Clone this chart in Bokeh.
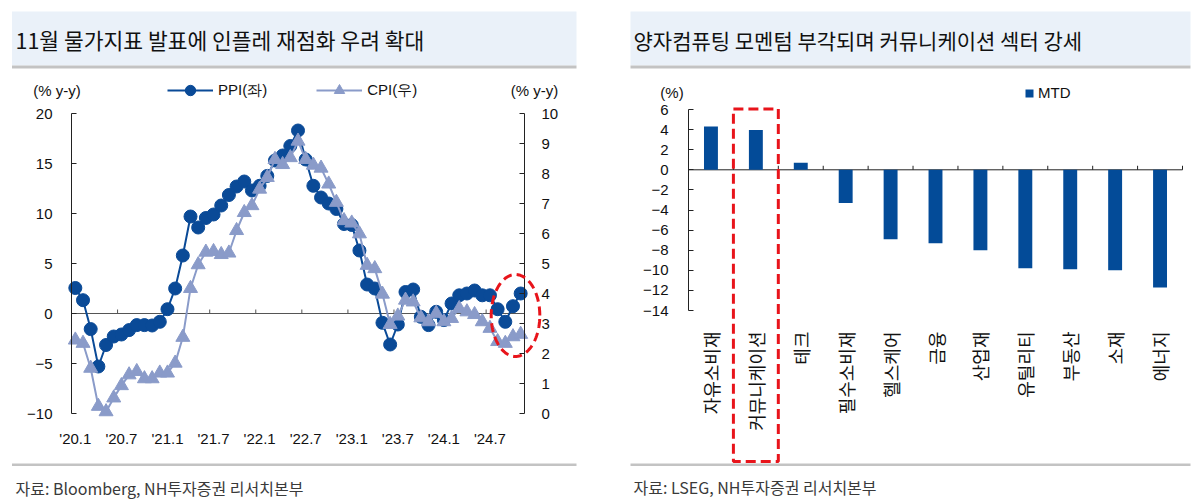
import math
import numpy as np
from bokeh.plotting import figure
from bokeh.models import (Range1d, LinearAxis, FixedTicker, Legend, LegendItem,
                          PolyAnnotation, Label, ColumnDataSource)
from bokeh.layouts import row
from bokeh.embed import file_html
from bokeh.resources import INLINE

# ---------------- data ----------------
months = [f"{y}-{m:02d}" for y in range(2020, 2025) for m in range(1, 13)][:59]
ppi = [2.55, 1.33, -1.56, -5.3, -3.15, -2.3, -2.1, -1.66, -1.16, -1.16,
       -1.2, -0.83, 0.43, 2.5, 5.8, 9.7, 8.6, 9.55, 9.9, 10.8,
       11.85, 12.7, 13.2, 12.3, 12.77, 13.76, 15.3, 15.8, 16.75, 18.3,
       15.4, 12.77, 11.6, 11.0, 10.45, 8.95, 8.85, 6.3, 2.9, 2.5,
       -0.93, -3.1, -1.1, 2.15, 2.4, -0.33, -1.16, 0.17, -0.66, 1.0,
       1.82, 2.0, 2.3, 1.82, 1.82, 0.43, -0.83, 0.73, 2.0]
cpi = [2.45, 2.34, 1.51, 0.24, 0.06, 0.52, 0.93, 1.29, 1.4, 1.16,
       1.16, 1.35, 1.35, 1.68, 2.54, 4.17, 4.96, 5.38, 5.4, 5.3,
       5.35, 6.1, 6.7, 6.93, 7.48, 7.87, 8.47, 8.3, 8.53, 9.08,
       8.47, 8.28, 8.18, 7.65, 7.04, 6.43, 6.35, 5.99, 4.94, 4.83,
       3.98, 2.97, 3.25, 3.78, 3.72, 3.19, 3.06, 3.34, 3.06, 3.17,
       3.5, 3.39, 3.3, 3.06, 2.84, 2.4, 2.34, 2.56, 2.64]
x_tick_labels = ["'20.1", "'20.7", "'21.1", "'21.7", "'22.1",
                 "'22.7", "'23.1", "'23.7", "'24.1", "'24.7"]
left_ticks = [-10, -5, 0, 5, 10, 15, 20]
right_ticks = list(range(0, 11))

sectors = ["자유소비재", "커뮤니케이션", "테크", "필수소비재", "헬스케어", "금융",
           "산업재", "유틸리티", "부동산", "소재", "에너지"]
mtd = [4.3, 3.95, 0.7, -3.3, -6.9, -7.3, -8.0, -9.8, -9.9, -10.0, -11.7]
bar_ticks = list(range(-14, 7, 2))

PPI_C = "#0a4a97"
CPI_C = "#8a9bc9"
BAR_C = "#034b98"
RED = "#e8141b"
BAND = "#eaf1f9"
GREY = "#c3c3c3"
NUM_FONT = "Liberation Sans"
KR_FONT = "Noto Sans CJK KR"

W1, W2, H = 600, 601, 502

# ---------------- left chart ----------------
n = len(ppi)
idx = list(range(n))
PX1 = 453 / n  # px per month


def fx(P):
    return -0.5 + (P - 71) / PX1


def fy(P):
    return 20 - (P - 113) / 10.0


def to_cpi(v):
    return (v + 10) / 3.0


p1 = figure(width=W1, height=H, output_backend="svg", toolbar_location=None,
            x_range=Range1d(fx(0), fx(W1)), y_range=Range1d(fy(H), fy(0)),
            x_axis_location=None, y_axis_location=None,
            min_border=0)
p1.outline_line_color = None
p1.grid.visible = False
p1.extra_y_ranges = {"cpi": Range1d(to_cpi(fy(H)), to_cpi(fy(0)))}

common_axis = dict(major_label_text_font=NUM_FONT, major_label_text_font_size="15px",
                   major_label_text_color="#111111", minor_tick_line_color=None,
                   axis_line_color="#222222", major_tick_line_color="#222222")

ax_l = LinearAxis(fixed_location=-0.5, bounds=(-10, 20), ticker=FixedTicker(ticks=left_ticks),
                  major_tick_in=5, major_tick_out=0, major_label_standoff=19, **common_axis)
p1.add_layout(ax_l, "left")
ax_r = LinearAxis(y_range_name="cpi", fixed_location=n - 0.5, bounds=(0, 10),
                  ticker=FixedTicker(ticks=right_ticks), major_tick_in=5,
                  major_tick_out=0, major_label_standoff=17, **common_axis)
p1.add_layout(ax_r, "right")
ax_b = LinearAxis(fixed_location=-10, bounds=(-0.5, n - 0.5),
                  ticker=FixedTicker(ticks=[6 * k for k in range(len(x_tick_labels))]),
                  major_label_overrides={6 * k: lab for k, lab in enumerate(x_tick_labels)},
                  major_label_standoff=10, major_label_text_font=NUM_FONT,
                  major_label_text_font_size="15px", major_label_text_color="#111111",
                  axis_line_color=None, major_tick_line_color=None, minor_tick_line_color=None)
p1.add_layout(ax_b, "below")

# zero line with category-boundary ticks every 6 months
zt1 = [6 * k - 0.5 for k in range(1, 10)]
p1.segment(x0=[-0.5], y0=[0], x1=[n - 0.5], y1=[0], line_color="#555555", line_width=1)
p1.segment(x0=zt1, y0=[0] * len(zt1), x1=zt1, y1=[0.4] * len(zt1),
           line_color="#555555", line_width=1)

src = ColumnDataSource(dict(x=idx, month=months, ppi=ppi, cpi=cpi))
l_ppi = p1.line("x", "ppi", source=src, line_color=PPI_C, line_width=2)
s_ppi = p1.scatter("x", "ppi", source=src, marker="circle", size=13,
                   fill_color=PPI_C, line_color=PPI_C)
l_cpi = p1.line("x", "cpi", source=src, y_range_name="cpi", line_color=CPI_C, line_width=2)
s_cpi = p1.scatter("x", "cpi", source=src, y_range_name="cpi", marker="triangle", size=14,
                   fill_color=CPI_C, line_color=CPI_C)

leg1 = Legend(items=[LegendItem(label="PPI(좌)", renderers=[l_ppi, s_ppi]),
                     LegendItem(label="CPI(우)", renderers=[l_cpi, s_cpi])],
              orientation="horizontal", location=(167, H - 103), glyph_width=46,
              glyph_height=26, label_height=26, label_standoff=5, spacing=49, padding=0,
              margin=0, border_line_color=None, background_fill_alpha=0,
              label_text_font=NUM_FONT, label_text_font_size="15px",
              label_text_color="#111111")
p1.add_layout(leg1)


def band(fxf, fyf, x0, x1, y0, y1, color, level="annotation"):
    return PolyAnnotation(xs=[fxf(x0), fxf(x1), fxf(x1), fxf(x0)],
                          ys=[fyf(y0), fyf(y0), fyf(y1), fyf(y1)],
                          fill_color=color, fill_alpha=1, line_color=None, level=level)


p1.add_layout(band(fx, fy, 11.5, 576, 11, 65, BAND, "underlay"))
p1.add_layout(band(fx, fy, 11.5, 576, 65, 68, GREY))
p1.add_layout(band(fx, fy, 11.5, 576, 463, 465.5, GREY))
p1.add_layout(Label(x=fx(15), y=fy(39), text="11월 물가지표 발표에 인플레 재점화 우려 확대",
                    text_font=KR_FONT, text_font_size="21.5px", text_baseline="middle",
                    text_color="#111111"))
p1.add_layout(Label(x=fx(15), y=fy(487), text="자료: Bloomberg, NH투자증권 리서치본부",
                    text_font=KR_FONT, text_font_size="16px", text_baseline="middle",
                    text_color="#3a3a3a"))
p1.add_layout(Label(x=fx(56.5), y=fy(90), text="(% y-y)", text_font=NUM_FONT,
                    text_font_size="15px", text_align="center", text_baseline="middle",
                    text_color="#111111"))
p1.add_layout(Label(x=fx(534), y=fy(90), text="(% y-y)", text_font=NUM_FONT,
                    text_font_size="15px", text_align="center", text_baseline="middle",
                    text_color="#111111"))
t = np.linspace(0, 2 * math.pi, 120)
cx, cy = fx(515), fy(315)
rx, ry = 24.3 / PX1, 4.1
p1.add_layout(PolyAnnotation(xs=list(cx + rx * np.cos(t)), ys=list(cy + ry * np.sin(t)),
                             fill_alpha=0, line_color=RED, line_alpha=1, line_width=3,
                             line_dash="9 5"))

# ---------------- right chart ----------------
m = len(sectors)
PX2 = 494 / m


def gx(P):
    return -0.5 + (P - 688) / PX2


def gy(P):
    return 6 - (P - 109) / 10.05


p2 = figure(width=W2, height=H, output_backend="svg", toolbar_location=None,
            x_range=Range1d(gx(600), gx(600 + W2)), y_range=Range1d(gy(H), gy(0)),
            x_axis_location=None, y_axis_location=None, min_border=0)
p2.outline_line_color = None
p2.grid.visible = False

ay = LinearAxis(fixed_location=-0.5, bounds=(-14, 6), ticker=FixedTicker(ticks=bar_ticks),
                major_tick_in=5, major_tick_out=0, major_label_standoff=20, **common_axis)
p2.add_layout(ay, "left")
axc = LinearAxis(fixed_location=-14, bounds=(-0.5, m - 0.5),
                 ticker=FixedTicker(ticks=list(range(m))),
                 major_label_overrides={i: s for i, s in enumerate(sectors)},
                 major_label_orientation=math.pi / 2, major_label_standoff=15,
                 major_label_text_font=KR_FONT, major_label_text_font_size="18px",
                 major_label_text_color="#111111", axis_line_color=None,
                 major_tick_line_color=None, minor_tick_line_color=None)
p2.add_layout(axc, "below")

zt2 = [i + 0.5 for i in range(m)]
p2.segment(x0=[-0.5], y0=[0], x1=[m - 0.5], y1=[0], line_color="#222222", line_width=1)
p2.segment(x0=zt2, y0=[0] * m, x1=zt2, y1=[0.4] * m, line_color="#222222", line_width=1)

bsrc = ColumnDataSource(dict(x=list(range(m)), sector=sectors, mtd=mtd))
bars = p2.vbar(x="x", top="mtd", bottom=0, width=0.31, source=bsrc,
               fill_color=BAR_C, line_color=None)

leg2 = Legend(items=[LegendItem(label="MTD", renderers=[bars])],
              location=(1024 - 600, H - 101), glyph_width=10, glyph_height=10,
              label_height=10, label_standoff=4, padding=0, margin=0,
              border_line_color=None, background_fill_alpha=0, label_text_font=NUM_FONT,
              label_text_font_size="15px", label_text_color="#111111")
p2.add_layout(leg2)

p2.add_layout(band(gx, gy, 630, 1190, 11, 65, BAND, "underlay"))
p2.add_layout(band(gx, gy, 630, 1190, 65, 68, GREY))
p2.add_layout(band(gx, gy, 630, 1190, 463, 465.5, GREY))
p2.add_layout(Label(x=gx(633), y=gy(39), text="양자컴퓨팅 모멘텀 부각되며 커뮤니케이션 섹터 강세",
                    text_font=KR_FONT, text_font_size="21px", text_baseline="middle",
                    text_color="#111111"))
p2.add_layout(Label(x=gx(633), y=gy(486), text="자료: LSEG, NH투자증권 리서치본부",
                    text_font=KR_FONT, text_font_size="16px", text_baseline="middle",
                    text_color="#3a3a3a"))
p2.add_layout(Label(x=gx(671.5), y=gy(92), text="(%)", text_font=NUM_FONT,
                    text_font_size="15px", text_align="center", text_baseline="middle",
                    text_color="#111111"))
hl = sectors.index("커뮤니케이션")
p2.add_layout(PolyAnnotation(xs=[hl - 0.5, hl + 0.5, hl + 0.5, hl - 0.5],
                             ys=[gy(108.5), gy(108.5), gy(461), gy(461)],
                             fill_alpha=0, line_color=RED, line_alpha=1, line_width=3,
                             line_dash="10 5"))

layout = row(p1, p2)
open("out.html", "w").write(file_html(layout, INLINE))
